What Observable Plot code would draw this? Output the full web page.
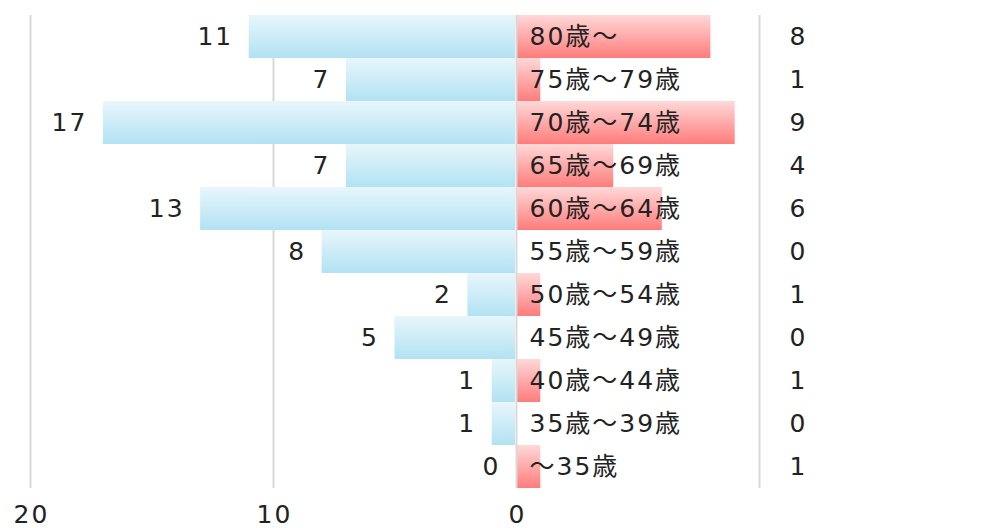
<!DOCTYPE html>
<html><head><meta charset="utf-8">
<script src="https://cdn.jsdelivr.net/npm/d3@7"></script>
<script src="https://cdn.jsdelivr.net/npm/@observablehq/plot@0.6"></script>
<style>
html,body{margin:0;padding:0;background:#fff;}
#chart svg{display:block;}
#chart svg text{letter-spacing:2px;}
</style>
</head><body><div id="chart"></div>
<script>
const categories = ["80歳〜","75歳〜79歳","70歳〜74歳","65歳〜69歳","60歳〜64歳","55歳〜59歳","50歳〜54歳","45歳〜49歳","40歳〜44歳","35歳〜39歳","〜35歳"];
const leftValues = [11,7,17,7,13,8,2,5,1,1,0];
const rightValues = [8,1,9,4,6,0,1,0,1,0,1];
const tickValues = [-20,-10,0];
const gridValues = [-20,-10,10];

const rows = categories.map((c,i)=>({cat:c, left:leftValues[i], right:rightValues[i]}));
const font = "'DejaVu Sans', 'Noto Sans CJK JP', sans-serif";

const chart = Plot.plot({
  width: 992, height: 528,
  marginLeft: 30, marginRight: 233, marginTop: 15, marginBottom: 40,
  style: {fontFamily: font, background: "#fff"},
  x: {domain: [-20, 10], axis: null},
  y: {domain: categories, padding: 0, axis: null},
  marks: [
    Plot.ruleX(gridValues, {stroke: "#d9d9d9", strokeWidth: 2}),
    Plot.barX(rows, {y: "cat", x1: 0, x2: d => -d.left, fill: "url(#blueGrad)", insetRight: 1}),
    Plot.barX(rows, {y: "cat", x1: 0, x2: d => d.right, fill: "url(#redGrad)", insetLeft: 1}),
    Plot.ruleX([0], {stroke: "#d9d9d9", strokeWidth: 2}),
    Plot.text(rows, {y: "cat", x: d => -d.left, text: d => String(d.left), textAnchor: "end", dx: -16, fontSize: 25, fill: "#222"}),
    Plot.text(rows, {y: "cat", x: 0, text: "cat", textAnchor: "start", dx: 13, fontSize: 25, fill: "#222"}),
    Plot.text(rows, {y: "cat", x: 10, text: d => String(d.right), textAnchor: "middle", dx: 39, fontSize: 25, fill: "#222"}),
    Plot.axisX(tickValues, {tickSize: 0, tickPadding: 17, tickFormat: d => String(Math.abs(d)), fontSize: 25, fill: "#222", anchor: "bottom", label: null, dx: 1})
  ]
});

const svg = d3.select(chart);
const defs = svg.insert("defs", ":first-child");
const bg = defs.append("linearGradient").attr("id","blueGrad").attr("x1",0).attr("y1",0).attr("x2",0).attr("y2",1);
bg.append("stop").attr("offset","0%").attr("stop-color","#e8f6fb");
bg.append("stop").attr("offset","100%").attr("stop-color","#b2e2f3");
const rg = defs.append("linearGradient").attr("id","redGrad").attr("x1",0).attr("y1",0).attr("x2",0).attr("y2",1);
rg.append("stop").attr("offset","0%").attr("stop-color","#ffd8d8");
rg.append("stop").attr("offset","100%").attr("stop-color","#ff7c7c");

document.getElementById("chart").appendChild(chart);
</script>
</body></html>
